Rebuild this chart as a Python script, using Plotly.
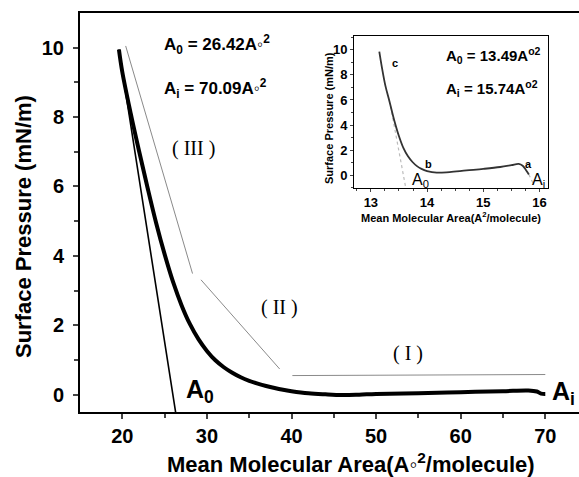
import plotly.graph_objects as go

# Main isotherm
main_x = [19.6, 20, 21, 22, 23, 24, 25, 26, 27, 28, 29, 30, 31, 32, 33, 34, 35, 36, 37, 38, 39, 40,
          42, 44, 46, 48, 50, 55, 60, 65, 68, 69, 69.5, 70]
main_y = [9.95, 9.3, 8.1, 7.0, 5.95, 4.95, 4.05, 3.25, 2.58, 2.03, 1.6, 1.26, 0.99, 0.79, 0.63, 0.5, 0.4,
          0.32, 0.25, 0.19, 0.14, 0.1, 0.04, 0.01, -0.01, 0.0, 0.02, 0.04, 0.07, 0.1, 0.12, 0.09, 0.03, 0.02]

# Tangent line to A0
tan_x = [19.6, 26.3]
tan_y = [9.95, -0.5]

# Region guide lines (III), (II), (I)
g3_x = [20.4, 28.3]; g3_y = [10.05, 3.49]
g2_x = [29.3, 38.6]; g2_y = [3.31, 0.74]
g1_x = [40.1, 70.0]; g1_y = [0.55, 0.58]

# Inset isotherm
ins_x = [13.15, 13.2, 13.26, 13.33, 13.42, 13.5, 13.58, 13.66, 13.74, 13.82, 13.9, 14.0, 14.17, 14.4,
         14.7, 15.0, 15.3, 15.5, 15.63, 15.7, 15.76, 15.81]
ins_y = [9.86, 8.5, 7.1, 5.9, 4.3, 3.1, 2.15, 1.5, 1.05, 0.72, 0.5, 0.33, 0.2, 0.25, 0.38, 0.5, 0.65, 0.8,
         0.9, 0.75, 0.4, 0.05]
ins_tan_x = [13.35, 13.62]
ins_tan_y = [5.5, -1.0]
ins_tail_x = [15.81, 15.88]
ins_tail_y = [0.05, -0.6]

x_ticks = [20, 30, 40, 50, 60, 70]
y_ticks = [0, 2, 4, 6, 8, 10]
ix_ticks = [13, 14, 15, 16]
iy_ticks = [0, 2, 4, 6, 8, 10]

FONT = "Liberation Sans"
GRAY = "#8a8a8a"

fig = go.Figure()
fig.add_trace(go.Scatter(x=tan_x, y=tan_y, mode="lines", line=dict(color="black", width=1.6)))
fig.add_trace(go.Scatter(x=main_x, y=main_y, mode="lines", line=dict(color="black", width=4, shape="spline")))
for gx, gy in [(g3_x, g3_y), (g2_x, g2_y), (g1_x, g1_y)]:
    fig.add_trace(go.Scatter(x=gx, y=gy, mode="lines", line=dict(color=GRAY, width=1)))

fig.add_trace(go.Scatter(x=ins_tan_x, y=ins_tan_y, mode="lines", xaxis="x2", yaxis="y2",
                         line=dict(color="#bbbbbb", width=1.2, dash="dot")))
fig.add_trace(go.Scatter(x=ins_tail_x, y=ins_tail_y, mode="lines", xaxis="x2", yaxis="y2",
                         line=dict(color="#bbbbbb", width=1.2, dash="dot")))
fig.add_trace(go.Scatter(x=ins_x, y=ins_y, mode="lines", xaxis="x2", yaxis="y2",
                         line=dict(color="#333333", width=1.8, shape="spline")))

ann = []
def A(x, y, text, size, xref="x", yref="y", family=FONT, anchor="center", color="black", angle=0):
    ann.append(dict(x=x, y=y, xref=xref, yref=yref, text=text, showarrow=False, textangle=angle,
                    font=dict(family=family, size=size, color=color), xanchor=anchor, yanchor="middle"))

A(162, 44, "<b>A<sub>0</sub> = 26.42A</b>◦<b><sup>2</sup></b>", 17, "paper", "paper", anchor="left")
A(162, 88, "<b>A<sub>i</sub> = 70.09A</b>◦<b><sup>2</sup></b>", 17, "paper", "paper", anchor="left")
A(28.4, 7.1, "( III )", 20, family="Liberation Serif")
A(38.6, 2.5, "( II )", 20, family="Liberation Serif")
A(53.8, 1.2, "( I )", 20, family="Liberation Serif")
A(29.2, 0.1, "<b>A<sub>0</sub></b>", 25)
A(72.2, 0.05, "<b>A<sub>i</sub></b>", 25)

# main axis titles (placed like the reference, whose frame runs past the right edge)
A(351, 463, "<b>Mean Molecular Area(A</b>◦<b><sup>2</sup>/molecule)</b>", 22, "paper", "paper")
A(23, 227, "<b>Surface Pressure (mN/m)</b>", 22, "paper", "paper", angle=-90)

# inset labels
A(13.43, 8.94, "<b>c</b>", 11, "x2", "y2")
A(14.03, 0.93, "<b>b</b>", 11, "x2", "y2")
A(15.81, 0.93, "<b>a</b>", 11, "x2", "y2")
A(13.88, -0.45, "A<sub>0</sub>", 16, "x2", "y2")
A(15.98, -0.45, "A<sub>i</sub>", 16, "x2", "y2")
A(444, 55, "<b>A<sub>0</sub> = 13.49A<sup>o2</sup></b>", 15, "paper", "paper", anchor="left")
A(444, 88, "<b>A<sub>i</sub> = 15.74A<sup>o2</sup></b>", 15, "paper", "paper", anchor="left")
A(451, 217, "<b>Mean Molecular Area(A<sup>2</sup>/molecule)</b>", 11, "paper", "paper")
A(329, 118, "<b>Surface Pressure (mN/m)</b>", 11, "paper", "paper", angle=-90)

# convert pixel-based paper annotations to paper fractions
W, H = 579, 477
L, R, T, B = 80, 0, 13, 65
pw, ph = W - L - R, H - T - B
for a in ann:
    if a["xref"] == "paper":
        a["x"] = (a["x"] - L) / pw
        a["y"] = 1 - (a["y"] - T) / ph

fig.update_layout(
    width=W, height=H, margin=dict(l=L, r=R, t=T, b=B),
    paper_bgcolor="white", plot_bgcolor="white", showlegend=False,
    font=dict(family=FONT, color="black"),
    annotations=ann,
    xaxis=dict(range=[15, 15 + pw / 8.46], tickvals=x_ticks, ticks="outside", ticklen=5, tickwidth=2,
               showline=True, linewidth=2, linecolor="black", mirror=True, showgrid=False, zeroline=False,
               minor=dict(tickvals=[25, 35, 45, 55, 65], ticks="outside", ticklen=4, tickwidth=2),
               tickfont=dict(size=20, family=FONT, weight="bold")),
    yaxis=dict(range=[-0.5, 11], tickvals=y_ticks, ticks="outside", ticklen=5, tickwidth=2,
               ticklabelstandoff=5,
               showline=True, linewidth=2, linecolor="black", showgrid=False, zeroline=False,
               minor=dict(tickvals=[1, 3, 5, 7, 9], ticks="outside", ticklen=4, tickwidth=2),
               tickfont=dict(size=20, family=FONT, weight="bold")),
    xaxis2=dict(domain=[(354 - L) / pw, (548 - L) / pw], anchor="y2", range=[12.7, 16.15],
                tickvals=ix_ticks, ticks="outside", ticklen=3, showline=True, linewidth=1,
                linecolor="black", mirror=True, showgrid=False, zeroline=False,
                minor=dict(dtick=0.25, ticks="outside", ticklen=2),
                tickfont=dict(size=13, family=FONT, weight="bold")),
    yaxis2=dict(domain=[1 - (187.7 - T) / ph, 1 - (36 - T) / ph], anchor="x2", range=[-1, 11.1],
                tickvals=iy_ticks, ticks="outside", ticklen=3, showline=True, linewidth=1,
                linecolor="black", mirror=True, showgrid=False, zeroline=False,
                minor=dict(dtick=1, ticks="outside", ticklen=2),
                tickfont=dict(size=13, family=FONT, weight="bold")),
)

# white background for inset
fig.add_shape(type="rect", xref="x2 domain", yref="y2 domain", x0=0, x1=1, y0=0, y1=1,
              fillcolor="white", line=dict(width=0), layer="below")

fig.write_html("out.html")
